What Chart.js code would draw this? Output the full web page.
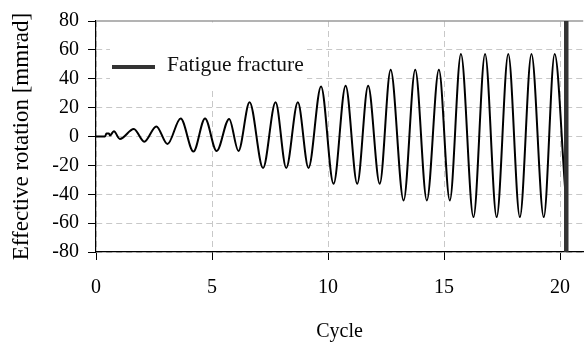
<!DOCTYPE html>
<html>
<head>
<meta charset="utf-8">
<script src="https://cdn.jsdelivr.net/npm/chart.js@4/dist/chart.umd.min.js"></script>
<style>
  html, body { margin: 0; padding: 0; background: #fff; }
  canvas { display: block; }
</style>
</head>
<body>
<canvas id="chart" width="586" height="345"></canvas>
<script>
// Turning points of the rotation history: cycle count and effective rotation [mmrad]
const cycleX = [0, 0.39, 0.45, 0.56, 0.6, 0.77, 1.03,
  1.63, 2.08, 2.6, 3.08,
  3.65, 4.2, 4.7, 5.2, 5.74, 6.14,
  6.62, 7.2, 7.74, 8.2, 8.7, 9.16,
  9.7, 10.24, 10.76, 11.26, 11.73, 12.23,
  12.7, 13.26, 13.76, 14.26, 14.78, 15.25,
  15.73, 16.27, 16.77, 17.27, 17.77, 18.27, 18.77, 19.3, 19.77,
  20.22];
const rotation = [0, 0, 2, 2, 0.7, 3.6, -1.7,
  5.2, -3.6, 7.0, -5.2,
  12.5, -10.4, 12.5, -10, 12.2, -10,
  23.7, -21.8, 23.7, -21.8, 23.7, -21.8,
  34.7, -32.8, 35.2, -32.8, 35.2, -32.8,
  46.2, -44.3, 46.2, -44.3, 46.2, -44.3,
  57.1, -55.8, 57.1, -55.8, 57.1, -55.8, 57.1, -55.8, 57.1,
  -36];

// Cycle at which the specimen fractured
const fractureCycle = [20.27, 20.27];
const fractureRange = [-80, 80];

const xTicks = [0, 5, 10, 15, 20];
const yTicks = [-80, -60, -40, -20, 0, 20, 40, 60, 80];

const SERIF = '"Liberation Serif", "Times New Roman", serif';

const historyPoints = cycleX.map((x, i) => ({ x, y: rotation[i] }));
const fracturePoints = fractureCycle.map((x, i) => ({ x, y: fractureRange[i] }));

// Solid upper frame line and the boxed legend entry
const framePlugin = {
  id: 'frameAndLegend',
  beforeDatasetsDraw(chart) {
    const { ctx, chartArea: a } = chart;
    ctx.save();
    ctx.strokeStyle = '#9a9a9a';
    ctx.lineWidth = 1.5;
    ctx.beginPath();
    ctx.moveTo(a.left, a.top);
    ctx.lineTo(a.right, a.top);
    ctx.stroke();
    ctx.restore();
  },
  afterDatasetsDraw(chart) {
    const { ctx, chartArea: a } = chart;
    const ds = chart.data.datasets[0];
    ctx.save();
    ctx.fillStyle = '#ffffff';
    ctx.fillRect(a.left + 14, a.top + 1.5, 197, 68);
    ctx.strokeStyle = ds.borderColor;
    ctx.lineWidth = 4;
    ctx.beginPath();
    ctx.moveTo(a.left + 16, a.top + 46);
    ctx.lineTo(a.left + 59, a.top + 46);
    ctx.stroke();
    ctx.fillStyle = '#111';
    ctx.font = '21.5px ' + SERIF;
    ctx.textBaseline = 'middle';
    ctx.textAlign = 'left';
    ctx.fillText(ds.label, a.left + 71, a.top + 44.5);
    ctx.restore();
  }
};

new Chart(document.getElementById('chart'), {
  type: 'line',
  data: {
    datasets: [
      {
        label: 'Fatigue fracture',
        data: fracturePoints,
        borderColor: '#333333',
        borderWidth: 4.5,
        pointRadius: 0,
        tension: 0
      },
      {
        label: 'Rotation history',
        data: historyPoints,
        borderColor: '#000000',
        borderWidth: 2,
        pointRadius: 0,
        cubicInterpolationMode: 'monotone'
      }
    ]
  },
  options: {
    responsive: false,
    devicePixelRatio: 1,
    animation: false,
    layout: { padding: { top: 19, right: 0, left: 0, bottom: 0 } },
    plugins: {
      legend: { display: false },
      tooltip: { enabled: false }
    },
    scales: {
      x: {
        type: 'linear',
        min: 0,
        max: 21,
        afterBuildTicks(scale) { scale.ticks = xTicks.map(v => ({ value: v })); },
        afterFit(scale) { scale.height = 93; },
        ticks: {
          color: '#000',
          font: { family: SERIF, size: 20 },
          padding: 16,
          maxRotation: 0,
          autoSkip: false
        },
        grid: {
          color: '#c8c8c8',
          lineWidth: 1,
          tickColor: '#000',
          tickLength: 8,
          tickBorderDash: []
        },
        border: { display: true, color: '#000', width: 1.2, dash: [6, 4] },
        title: {
          display: true,
          text: 'Cycle',
          color: '#000',
          font: { family: SERIF, size: 20 },
          padding: { top: 0, bottom: 1 }
        }
      },
      y: {
        type: 'linear',
        min: -80,
        max: 80,
        afterBuildTicks(scale) { scale.ticks = yTicks.map(v => ({ value: v })); },
        afterFit(scale) { scale.width = 96; },
        ticks: {
          color: '#000',
          font: { family: SERIF, size: 20 },
          padding: 9
        },
        grid: {
          color: (ctx) => (ctx.tick && ctx.tick.value === 80) ? 'rgba(0,0,0,0)' : '#c8c8c8',
          lineWidth: 1,
          tickColor: '#000',
          tickLength: 8,
          tickBorderDash: []
        },
        border: { display: true, color: '#000', width: 1.2, dash: [6, 4] },
        title: {
          display: true,
          text: 'Effective rotation [mmrad]',
          color: '#000',
          font: { family: SERIF, size: 23 },
          padding: { top: 8, bottom: 0 }
        }
      }
    }
  },
  plugins: [framePlugin]
});
</script>
</body>
</html>
